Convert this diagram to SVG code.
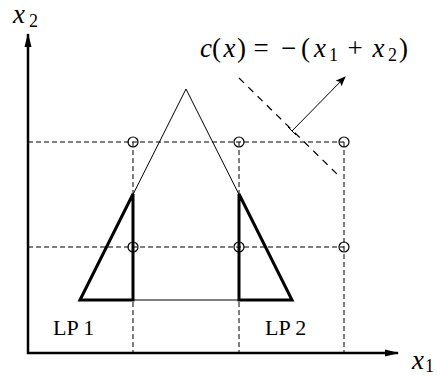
<svg xmlns="http://www.w3.org/2000/svg" width="437" height="376" viewBox="0 0 437 376">
<style>
.ax{stroke:#000;stroke-width:2.5;fill:none}
.grid{stroke:#000;stroke-width:1;fill:none;stroke-dasharray:5 3}
.thin{stroke:#000;stroke-width:1;fill:none}
.thick{stroke:#000;stroke-width:3;fill:none;stroke-linejoin:miter}
.obj{stroke:#000;stroke-width:1.2;fill:none;stroke-dasharray:7 6}
.pt{stroke:#000;stroke-width:1.2;fill:none}
.m{font-family:"Liberation Serif","DejaVu Serif",serif;font-style:italic;font-size:27px;fill:#000}
.u{font-family:"Liberation Serif","DejaVu Serif",serif;font-size:27px;fill:#000}
.s{font-family:"Liberation Serif","DejaVu Serif",serif;font-size:18px;fill:#000}
.r{font-family:"Liberation Serif","DejaVu Serif",serif;font-size:22px;fill:#000}
</style>
<defs>
<marker id="ah" markerWidth="10" markerHeight="8" refX="9" refY="4" orient="auto" markerUnits="userSpaceOnUse">
<path d="M0,0 L10,4 L0,8 L2,4 Z" fill="#000"/>
</marker>
<marker id="ah2" markerWidth="14" markerHeight="10" refX="13" refY="5" orient="auto" markerUnits="userSpaceOnUse">
<path d="M0,1.5 L14,5 L0,8.5 Z" fill="#000"/>
</marker>
</defs>
<g id="connectors">
<line class="grid" x1="28" y1="142" x2="344" y2="142"/>
<line class="grid" x1="28" y1="247" x2="344" y2="247"/>
<line class="grid" x1="133" y1="142" x2="133" y2="353"/>
<line class="grid" x1="239" y1="142" x2="239" y2="353"/>
<line class="grid" x1="344" y1="142" x2="344" y2="353"/>
<line class="obj" x1="239" y1="78" x2="340" y2="177"/>
<line class="thin" x1="292" y1="131" x2="345" y2="77" stroke-width="1.5" marker-end="url(#ah)"/>
<line class="thin" x1="288" y1="127" x2="296" y2="135" stroke-width="1.5"/>
</g>
<g id="axes">
<line class="ax" x1="28" y1="354" x2="28" y2="34" marker-end="url(#ah2)"/>
<line class="ax" x1="27" y1="353" x2="398" y2="353" marker-end="url(#ah2)"/>
</g>
<g id="triangle">
<polyline class="thin" points="80,300 186,89 292,300"/>
<line class="thin" x1="133" y1="300" x2="239" y2="300"/>
</g>
<g id="lp1">
<polygon class="thick" points="80,300 133,194 133,300"/>
<text class="r" x="53" y="335">LP 1</text>
</g>
<g id="lp2">
<polygon class="thick" points="239,194 292,300 239,300"/>
<text class="r" x="265" y="335">LP 2</text>
</g>
<g id="points">
<circle class="pt" cx="133" cy="142" r="5"/>
<circle class="pt" cx="239" cy="142" r="5"/>
<circle class="pt" cx="344" cy="142" r="5"/>
<circle class="pt" cx="133" cy="247" r="5"/>
<circle class="pt" cx="239" cy="247" r="5"/>
<circle class="pt" cx="344" cy="247" r="5"/>
</g>
<g id="labels">
<text class="m" x="13" y="23">x</text><text class="s" x="29" y="27">2</text>
<text class="m" x="412" y="369">x</text><text class="s" x="425" y="372">1</text>
<g id="objective">
<text class="m" x="200" y="57">c</text>
<text class="u" x="212" y="57">(</text>
<text class="m" x="223.5" y="57">x</text>
<text class="u" x="237" y="57">)</text>
<text class="u" x="253.5" y="57">=</text>
<text class="u" x="281" y="57">−</text>
<text class="u" x="301" y="57">(</text>
<text class="m" x="314" y="57">x</text>
<text class="s" x="329" y="61">1</text>
<text class="u" x="347.5" y="57">+</text>
<text class="m" x="372.5" y="57">x</text>
<text class="s" x="388" y="61">2</text>
<text class="u" x="399" y="57">)</text>
</g>
</g>
</svg>
